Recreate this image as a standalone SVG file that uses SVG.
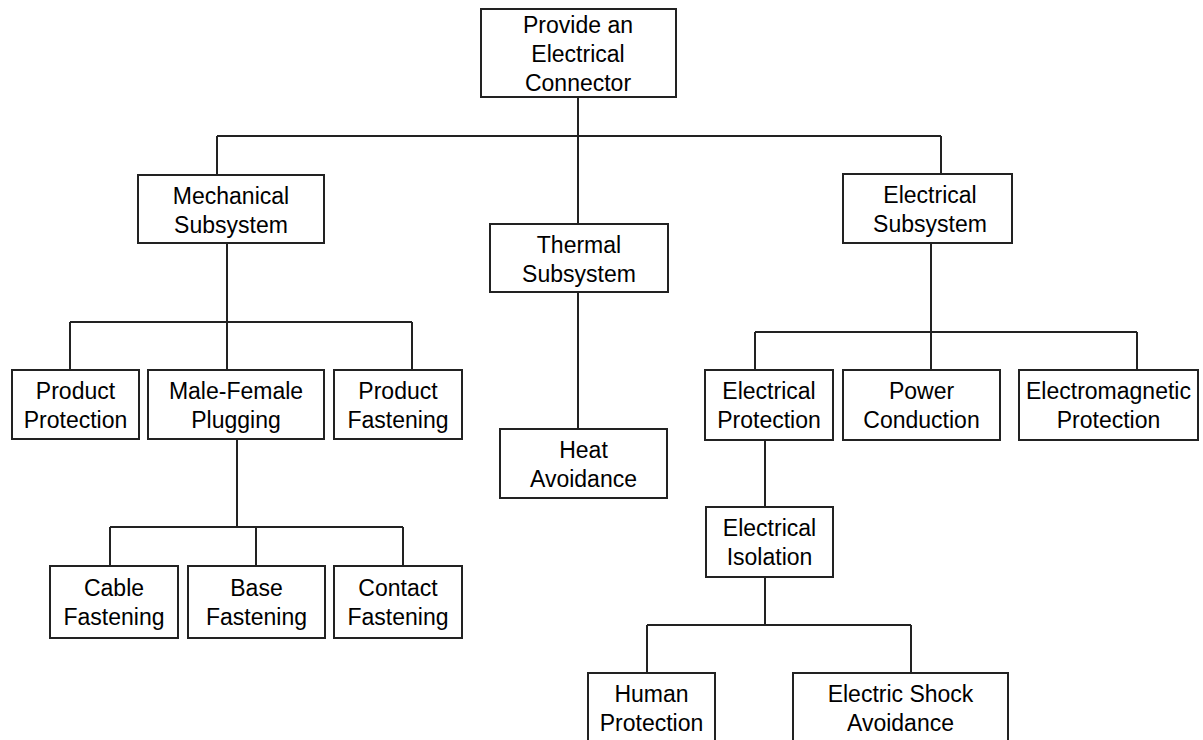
<svg xmlns="http://www.w3.org/2000/svg" width="1203" height="740" viewBox="0 0 1203 740">
<style>
.box{fill:#fff;stroke:#222;stroke-width:2}
.ln{stroke:#222;stroke-width:2;fill:none}
text{font-family:"Liberation Sans",Arial,sans-serif;font-size:23px;fill:#000;text-anchor:middle}
</style>
<rect width="1203" height="740" fill="#fff"/>
<g id="connectors">
<path class="ln" d="M578 97V136M217 136H941M217 136V175M578 136V224M941 136V174"/>
<path class="ln" d="M227 243V322M70 322H412M70 322V370M227 322V370M412 322V370"/>
<path class="ln" d="M578 292V429"/>
<path class="ln" d="M237 439V527M110 527H403M110 527V566M256 527V566M403 527V566"/>
<path class="ln" d="M931 243V332M755 332H1137M755 332V370M931 332V370M1137 332V370"/>
<path class="ln" d="M765 440V507"/>
<path class="ln" d="M765 577V625M647 625H911M647 625V673M911 625V673"/>
</g>
<g id="root"><rect class="box" x="481" y="9" width="195" height="88"/><text x="578" y="33">Provide an</text><text x="578" y="62">Electrical</text><text x="578" y="91">Connector</text></g>
<g id="mechanical"><rect class="box" x="138" y="175" width="186" height="68"/><text x="231" y="204">Mechanical</text><text x="231" y="233">Subsystem</text></g>
<g id="thermal"><rect class="box" x="490" y="224" width="178" height="68"/><text x="579" y="253">Thermal</text><text x="579" y="282">Subsystem</text></g>
<g id="electrical"><rect class="box" x="843" y="174" width="169" height="69"/><text x="930" y="203">Electrical</text><text x="930" y="232">Subsystem</text></g>
<g id="product-protection"><rect class="box" x="12" y="370" width="127" height="69"/><text x="75.5" y="399">Product</text><text x="75.5" y="428">Protection</text></g>
<g id="male-female"><rect class="box" x="148" y="370" width="176" height="69"/><text x="236" y="399">Male-Female</text><text x="236" y="428">Plugging</text></g>
<g id="product-fastening"><rect class="box" x="334" y="370" width="128" height="69"/><text x="398" y="399">Product</text><text x="398" y="428">Fastening</text></g>
<g id="heat-avoidance"><rect class="box" x="500" y="429" width="167" height="69"/><text x="583.5" y="458">Heat</text><text x="583.5" y="487">Avoidance</text></g>
<g id="electrical-protection"><rect class="box" x="705" y="370" width="128" height="70"/><text x="769" y="399">Electrical</text><text x="769" y="428">Protection</text></g>
<g id="power-conduction"><rect class="box" x="843" y="370" width="157" height="70"/><text x="921.5" y="399">Power</text><text x="921.5" y="428">Conduction</text></g>
<g id="electromagnetic"><rect class="box" x="1019" y="370" width="179" height="70"/><text x="1108.5" y="399">Electromagnetic</text><text x="1108.5" y="428">Protection</text></g>
<g id="electrical-isolation"><rect class="box" x="706" y="507" width="127" height="70"/><text x="769.5" y="536">Electrical</text><text x="769.5" y="565">Isolation</text></g>
<g id="cable-fastening"><rect class="box" x="50" y="566" width="128" height="72"/><text x="114" y="596">Cable</text><text x="114" y="625">Fastening</text></g>
<g id="base-fastening"><rect class="box" x="188" y="566" width="137" height="72"/><text x="256.5" y="596">Base</text><text x="256.5" y="625">Fastening</text></g>
<g id="contact-fastening"><rect class="box" x="334" y="566" width="128" height="72"/><text x="398" y="596">Contact</text><text x="398" y="625">Fastening</text></g>
<g id="human-protection"><rect class="box" x="588" y="673" width="127" height="72"/><text x="651.5" y="702">Human</text><text x="651.5" y="731">Protection</text></g>
<g id="electric-shock"><rect class="box" x="793" y="673" width="215" height="72"/><text x="900.5" y="702">Electric Shock</text><text x="900.5" y="731">Avoidance</text></g>
</svg>
